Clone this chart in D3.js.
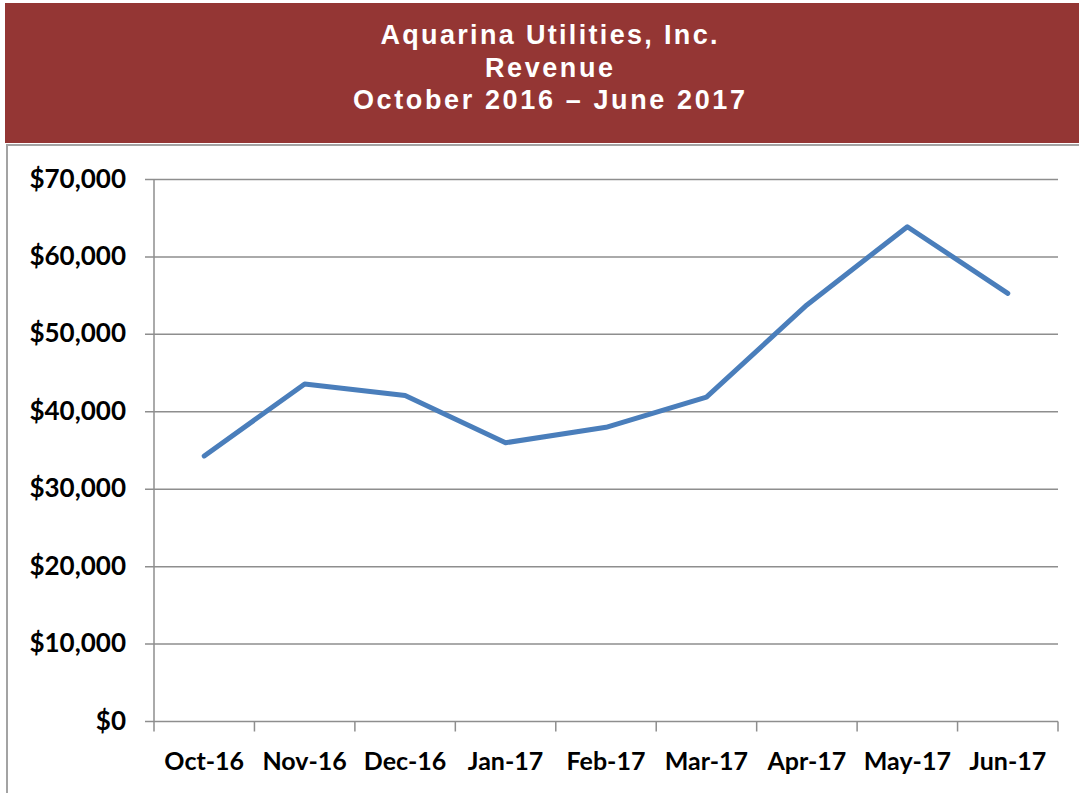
<!DOCTYPE html>
<html>
<head>
<meta charset="utf-8">
<script src="https://cdn.jsdelivr.net/npm/d3@7"></script>
<style>
  body { margin: 0; background: #fff; }
  svg { display: block; }
</style>
</head>
<body>
<div id="chart"></div>
<script>
// Chart data
const months = ["Oct-16", "Nov-16", "Dec-16", "Jan-17", "Feb-17", "Mar-17", "Apr-17", "May-17", "Jun-17"];
const revenue = [34300, 43600, 42100, 36000, 38000, 41900, 53800, 63900, 55300];
const yTicks = [0, 10000, 20000, 30000, 40000, 50000, 60000, 70000];
const titleLines = ["Aquarina Utilities, Inc.", "Revenue", "October 2016 \u2013 June 2017"];

const width = 1079, height = 793;
const svg = d3.select("#chart").append("svg")
    .attr("width", width)
    .attr("height", height);

// Title banner
svg.append("rect")
    .attr("x", 5).attr("y", 3)
    .attr("width", width - 5).attr("height", 140)
    .style("fill", "#943634");

const titleWidths = [337, 128, 392];
svg.selectAll("text.title")
    .data(titleLines)
    .enter().append("text")
    .attr("class", "title")
    .attr("x", 549)
    .attr("y", (d, i) => 44 + i * 32.5)
    .attr("text-anchor", "middle")
    .attr("textLength", (d, i) => titleWidths[i])
    .attr("lengthAdjust", "spacing")
    .style("font-family", "'Liberation Sans', Arial, sans-serif")
    .style("font-weight", "bold")
    .style("font-size", "27px")
    .style("fill", "#fff")
    .text(d => d);

// Chart area border
svg.append("rect")
    .attr("x", 7).attr("y", 145)
    .attr("width", width + 10).attr("height", height)
    .style("fill", "none")
    .style("stroke", "#a3a3a3")
    .style("stroke-width", 2);

// Scales
const plotLeft = 154, plotRight = 1058, plotTop = 179.5, plotBottom = 721.5;
const x = d3.scaleBand().domain(months).range([plotLeft, plotRight]);
const y = d3.scaleLinear().domain([0, 70000]).range([plotBottom, plotTop]);

const gridColor = "#8e8e8e";
const labelFont = "Lato, 'Open Sans', sans-serif";

// Gridlines
svg.selectAll("line.grid")
    .data(yTicks)
    .enter().append("line")
    .attr("class", "grid")
    .attr("x1", plotLeft - 9).attr("x2", plotRight)
    .attr("y1", d => y(d)).attr("y2", d => y(d))
    .style("stroke", gridColor)
    .style("stroke-width", 1.5);

// Y axis line
svg.append("line")
    .attr("x1", plotLeft).attr("x2", plotLeft)
    .attr("y1", plotTop).attr("y2", plotBottom)
    .style("stroke", gridColor)
    .style("stroke-width", 1.5);

// X tick marks (category boundaries)
const boundaries = months.map(m => x(m)).concat([plotRight]);
svg.selectAll("line.xtick")
    .data(boundaries)
    .enter().append("line")
    .attr("class", "xtick")
    .attr("x1", d => d).attr("x2", d => d)
    .attr("y1", plotBottom).attr("y2", plotBottom + 10)
    .style("stroke", gridColor)
    .style("stroke-width", 1.5);

// Y labels
const fmt = d3.format("$,");
svg.selectAll("text.ylabel")
    .data(yTicks)
    .enter().append("text")
    .attr("class", "ylabel")
    .attr("x", 126)
    .attr("y", d => y(d) + 8)
    .attr("text-anchor", "end")
    .style("font-family", labelFont)
    .style("font-weight", "bold")
    .style("font-size", "26px")
    .style("fill", "#000")
    .text(d => fmt(d));

// X labels
svg.selectAll("text.xlabel")
    .data(months)
    .enter().append("text")
    .attr("class", "xlabel")
    .attr("x", d => x(d) + x.bandwidth() / 2)
    .attr("y", 770)
    .attr("text-anchor", "middle")
    .style("font-family", labelFont)
    .style("font-weight", "bold")
    .style("font-size", "25px")
    .style("fill", "#000")
    .text(d => d);

// Revenue line
const line = d3.line()
    .x((d, i) => x(months[i]) + x.bandwidth() / 2)
    .y(d => y(d));

svg.append("path")
    .datum(revenue)
    .attr("d", line)
    .style("fill", "none")
    .style("stroke", "#4a7ebb")
    .style("stroke-width", 5)
    .style("stroke-linejoin", "round")
    .style("stroke-linecap", "round");
</script>
</body>
</html>
